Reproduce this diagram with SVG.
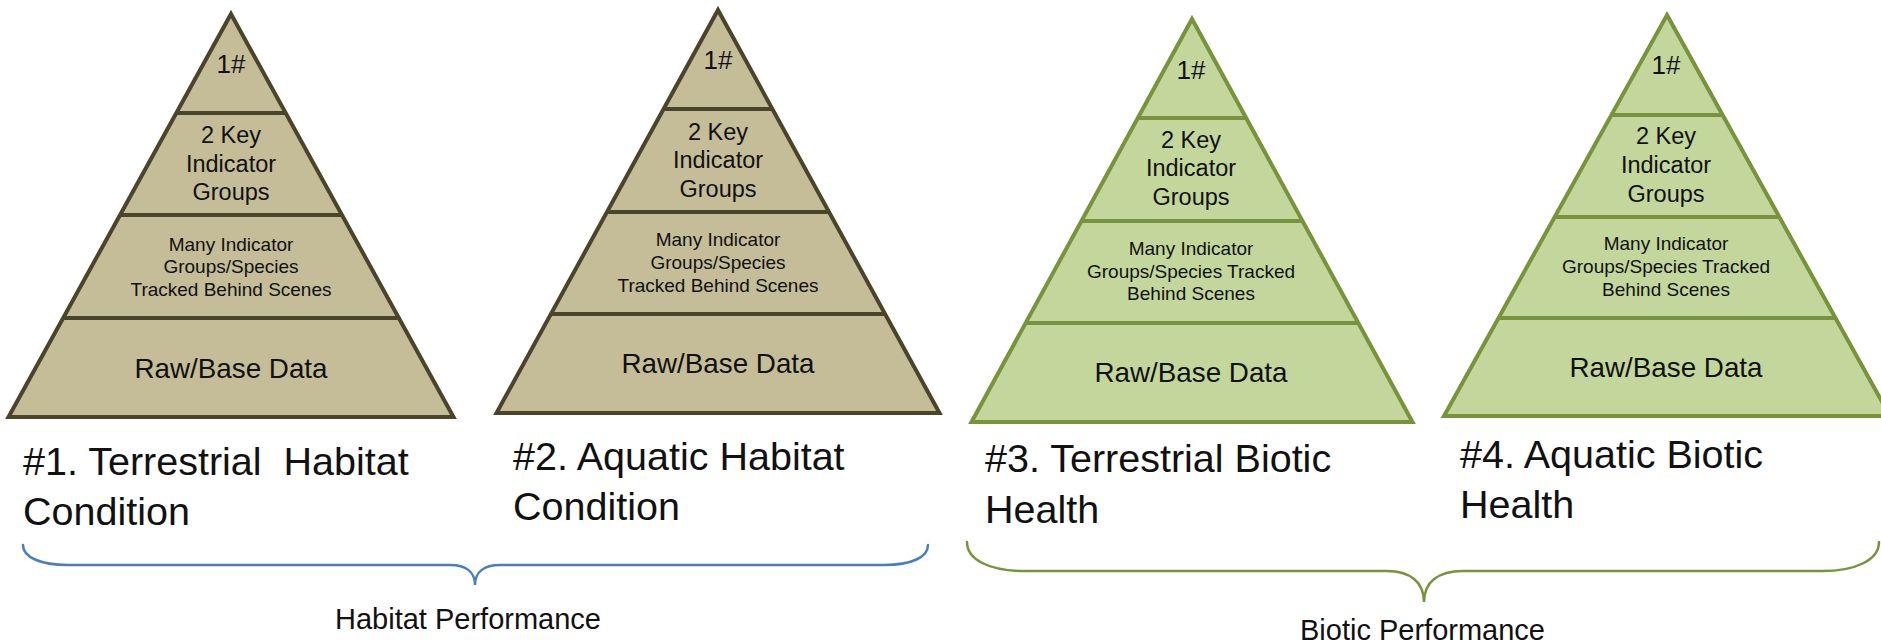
<svg xmlns="http://www.w3.org/2000/svg" width="1881" height="644" viewBox="0 0 1881 644">
  <style>
    text { font-family: "Liberation Sans", Arial, sans-serif; fill: #111; }
    .tan { fill: #C4BD97; stroke: #4A452A; stroke-width: 4; stroke-linejoin: miter; }
    .tan-line { stroke: #4A452A; stroke-width: 4; }
    .grn { fill: #C3D69B; stroke: #77933C; stroke-width: 4; stroke-linejoin: miter; }
    .grn-line { stroke: #77933C; stroke-width: 4; }
    .t1 { font-size: 26px; text-anchor: middle; }
    .t2 { font-size: 23.5px; text-anchor: middle; }
    .t3 { font-size: 19px; text-anchor: middle; }
    .t4 { font-size: 27.8px; text-anchor: middle; }
    .title { font-size: 39.5px; }
    .group { font-size: 29px; }
    .brace { fill: none; stroke-width: 2.5; stroke-linecap: round; }
  </style>

  <!-- Pyramid 1: Terrestrial Habitat Condition -->
  <g id="pyramid-1">
    <polygon class="tan" points="231,14 453.5,417 8.5,417"/>
    <line class="tan-line" x1="176.3" y1="113" x2="285.7" y2="113"/>
    <line class="tan-line" x1="120" y1="215" x2="342" y2="215"/>
    <line class="tan-line" x1="63.2" y1="318" x2="398.8" y2="318"/>
    <text class="t1" x="231" y="73">1#</text>
    <text class="t2" x="231" y="143">2 Key</text>
    <text class="t2" x="231" y="172">Indicator</text>
    <text class="t2" x="231" y="200">Groups</text>
    <text class="t3" x="231" y="251">Many Indicator</text>
    <text class="t3" x="231" y="273">Groups/Species</text>
    <text class="t3" x="231" y="296">Tracked Behind Scenes</text>
    <text class="t4" x="231" y="378">Raw/Base Data</text>
    <text class="title" x="23" y="475" xml:space="preserve">#1. Terrestrial  Habitat</text>
    <text class="title" x="23" y="525">Condition</text>
  </g>

  <!-- Pyramid 2: Aquatic Habitat Condition -->
  <g id="pyramid-2">
    <polygon class="tan" points="718,10 939.5,413 496.5,413"/>
    <line class="tan-line" x1="663.6" y1="109" x2="772.4" y2="109"/>
    <line class="tan-line" x1="607" y1="212" x2="829" y2="212"/>
    <line class="tan-line" x1="550.9" y1="314" x2="885.1" y2="314"/>
    <text class="t1" x="718" y="69">1#</text>
    <text class="t2" x="718" y="140">2 Key</text>
    <text class="t2" x="718" y="168">Indicator</text>
    <text class="t2" x="718" y="197">Groups</text>
    <text class="t3" x="718" y="246">Many Indicator</text>
    <text class="t3" x="718" y="269">Groups/Species</text>
    <text class="t3" x="718" y="292">Tracked Behind Scenes</text>
    <text class="t4" x="718" y="373">Raw/Base Data</text>
    <text class="title" x="513" y="470">#2. Aquatic Habitat</text>
    <text class="title" x="513" y="520">Condition</text>
  </g>

  <!-- Pyramid 3: Terrestrial Biotic Health -->
  <g id="pyramid-3">
    <polygon class="grn" points="1192,19 1412.5,422 971.5,422"/>
    <line class="grn-line" x1="1137.8" y1="118" x2="1246.2" y2="118"/>
    <line class="grn-line" x1="1081.5" y1="221" x2="1302.5" y2="221"/>
    <line class="grn-line" x1="1025.7" y1="323" x2="1358.3" y2="323"/>
    <text class="t1" x="1191" y="79">1#</text>
    <text class="t2" x="1191" y="148">2 Key</text>
    <text class="t2" x="1191" y="176">Indicator</text>
    <text class="t2" x="1191" y="205">Groups</text>
    <text class="t3" x="1191" y="255">Many Indicator</text>
    <text class="t3" x="1191" y="278">Groups/Species Tracked</text>
    <text class="t3" x="1191" y="300">Behind Scenes</text>
    <text class="t4" x="1191" y="382">Raw/Base Data</text>
    <text class="title" x="985" y="472">#3. Terrestrial Biotic</text>
    <text class="title" x="985" y="523">Health</text>
  </g>

  <!-- Pyramid 4: Aquatic Biotic Health -->
  <g id="pyramid-4">
    <polygon class="grn" points="1667,15 1890,416 1444,416"/>
    <line class="grn-line" x1="1611.4" y1="115" x2="1722.6" y2="115"/>
    <line class="grn-line" x1="1554.7" y1="217" x2="1779.3" y2="217"/>
    <line class="grn-line" x1="1498.5" y1="318" x2="1835.5" y2="318"/>
    <text class="t1" x="1666" y="74">1#</text>
    <text class="t2" x="1666" y="144">2 Key</text>
    <text class="t2" x="1666" y="173">Indicator</text>
    <text class="t2" x="1666" y="202">Groups</text>
    <text class="t3" x="1666" y="250">Many Indicator</text>
    <text class="t3" x="1666" y="273">Groups/Species Tracked</text>
    <text class="t3" x="1666" y="296">Behind Scenes</text>
    <text class="t4" x="1666" y="377">Raw/Base Data</text>
    <text class="title" x="1460" y="468">#4. Aquatic Biotic</text>
    <text class="title" x="1460" y="518">Health</text>
  </g>

  <!-- Curly braces grouping the pyramids -->
  <g id="connectors">
    <path class="brace" stroke="#4A7EBB" d="M23,545 C23,557 40,565 68,565 L450,565 C466,565 475,572 475,585 C475,572 484,565 500,565 L884,565 C912,565 928,557 928,545"/>
    <path class="brace" stroke="#77933C" d="M967,542 C967,560 990,571 1024,571 L1387,571 C1410,571 1424,582 1424,602 C1424,582 1438,571 1463,571 L1822,571 C1856,571 1879,560 1879,542"/>
  </g>

  <g id="group-labels">
    <text class="group" x="335" y="629">Habitat Performance</text>
    <text class="group" x="1300" y="640">Biotic Performance</text>
  </g>
</svg>
